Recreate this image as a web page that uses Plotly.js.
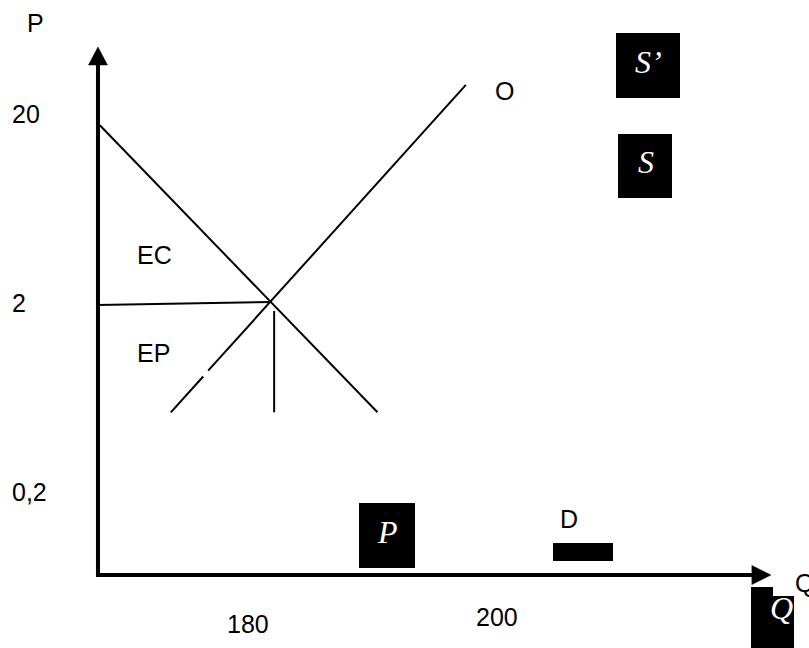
<!DOCTYPE html>
<html>
<head>
<meta charset="utf-8">
<script src="https://cdn.plot.ly/plotly-3.0.1.min.js"></script>
<style>
  html, body { margin: 0; padding: 0; background: #ffffff; }
  #chart { width: 809px; height: 648px; }
</style>
</head>
<body>
<div id="chart"></div>
<script>
// ---------------- data ----------------
// Q (quantity) is a linear axis, P (price) is a log axis (20, 2, 0,2 are evenly spaced)
const qRange = [160.08, 225.06];
const pLogRange = [-1.5228, 1.9058];

const axisOriginQ = 167.95;
const axisOriginP = 0.073;
const axisEndQ = 222.0;
const axisEndP = 45.4;

const demandQ = [168.1, 190.4];
const demandP = [17.5, 0.53];

const supplyQ = [173.8, 176.4, null, 176.8, 197.5];
const supplyP = [0.53, 0.82, null, 0.88, 28.6];

const priceLineQ = [167.95, 181.9];
const priceLineP = [1.96, 2.03];

const qtyLineQ = [182.1, 182.1];
const qtyLineP = [1.82, 0.53];

const pTickVals = [20, 2, 0.2];
const pTickText = ['20', '2', '0,2'];
const qTickVals = [180, 200];
const qTickText = ['180', '200'];

// ---------------- layout / style constants ----------------
const W = 809, H = 648;
const sansFont = 'Liberation Sans, Arial, sans-serif';
const serifFont = 'Liberation Serif, Times New Roman, serif';
const labelSize = 25;
const boxTextSize = 32;

const qPerPx = (qRange[1] - qRange[0]) / W;
const decPerPx = (pLogRange[1] - pLogRange[0]) / H;
function qShift(q, dpx) { return q + dpx * qPerPx; }
function pShift(p, dpxUp) { return Math.pow(10, Math.log10(p) + dpxUp * decPerPx); }
function fx(px) { return px / W; }
function fy(py) { return 1 - py / H; }

const headLen = 18, headHalf = 9.5;

const traces = [
  { // axes
    x: [axisOriginQ, axisOriginQ, qShift(axisEndQ, -10)],
    y: [pShift(axisEndP, -10), axisOriginP, axisOriginP],
    mode: 'lines', line: { color: '#000', width: 4 }, hoverinfo: 'skip'
  },
  { // P arrow head
    x: [axisOriginQ, qShift(axisOriginQ, -headHalf), qShift(axisOriginQ, headHalf), axisOriginQ],
    y: [axisEndP, pShift(axisEndP, -headLen), pShift(axisEndP, -headLen), axisEndP],
    mode: 'lines', fill: 'toself', fillcolor: '#000', line: { color: '#000', width: 0.5 }, hoverinfo: 'skip'
  },
  { // Q arrow head
    x: [axisEndQ, qShift(axisEndQ, -headLen - 1), qShift(axisEndQ, -headLen - 1), axisEndQ],
    y: [axisOriginP, pShift(axisOriginP, headHalf), pShift(axisOriginP, -headHalf), axisOriginP],
    mode: 'lines', fill: 'toself', fillcolor: '#000', line: { color: '#000', width: 0.5 }, hoverinfo: 'skip'
  },
  { x: demandQ, y: demandP, mode: 'lines', line: { color: '#000', width: 2 }, hoverinfo: 'skip' },
  { x: supplyQ, y: supplyP, mode: 'lines', line: { color: '#000', width: 2 }, connectgaps: false, hoverinfo: 'skip' },
  { x: priceLineQ, y: priceLineP, mode: 'lines', line: { color: '#000', width: 2 }, hoverinfo: 'skip' },
  { x: qtyLineQ, y: qtyLineP, mode: 'lines', line: { color: '#000', width: 2 }, hoverinfo: 'skip' }
];

// black label boxes (pixel rectangles)
const boxRects = [
  [616, 33, 680, 98],
  [618, 134, 672, 198],
  [359, 503, 415, 568],
  [751, 587, 773, 648],
  [773, 596, 794, 648],
  [553, 543, 613, 561]
];
const shapes = boxRects.map(r => ({
  type: 'rect', xref: 'paper', yref: 'paper',
  x0: fx(r[0]), x1: fx(r[2]), y0: fy(r[3]), y1: fy(r[1]),
  fillcolor: '#000', line: { width: 0 }, layer: 'above'
}));

const annotations = [];
function addText(text, px, py, opts) {
  annotations.push(Object.assign({
    text: text, xref: 'paper', yref: 'paper', x: fx(px), y: fy(py),
    xanchor: 'center', yanchor: 'middle', showarrow: false,
    font: { family: sansFont, size: labelSize, color: '#000' }
  }, opts || {}));
}
// P tick labels placed by the log axis
pTickVals.forEach((v, i) => {
  annotations.push({
    text: pTickText[i], xref: 'paper', yref: 'y', x: fx(10), y: Math.log10(v),
    xanchor: 'left', yanchor: 'middle', showarrow: false,
    font: { family: sansFont, size: labelSize, color: '#000' }
  });
});
// Q tick labels placed by the linear axis
const qTickLabelY = [624, 617];
qTickVals.forEach((v, i) => {
  annotations.push({
    text: qTickText[i], xref: 'x', yref: 'paper', x: v, y: fy(qTickLabelY[i]),
    xanchor: 'center', yanchor: 'middle', showarrow: false,
    font: { family: sansFont, size: labelSize, color: '#000' }
  });
});
addText('P', 35, 23);
addText('O', 504, 91);
addText('EC', 154, 255);
addText('EP', 153, 353);
addText('D', 569, 519);
addText('Q', 793, 583, { xanchor: 'left' });

const serif = { family: serifFont, size: boxTextSize, color: '#fff' };
addText('<i>S’</i>', 648, 62, { font: serif });
addText('<i>S</i>', 646, 162, { font: serif });
addText('<i>P</i>', 387, 532, { font: serif });
addText('<i>Q</i>', 781, 608, { font: serif });

const layout = {
  width: W, height: H,
  margin: { l: 0, r: 0, t: 0, b: 0, pad: 0 },
  paper_bgcolor: '#fff', plot_bgcolor: '#fff',
  showlegend: false, hovermode: false,
  xaxis: { range: qRange, visible: false, fixedrange: true },
  yaxis: { type: 'log', range: pLogRange, visible: false, fixedrange: true },
  shapes: shapes,
  annotations: annotations
};

Plotly.newPlot('chart', traces, layout, { displayModeBar: false, staticPlot: true });
</script>
</body>
</html>
